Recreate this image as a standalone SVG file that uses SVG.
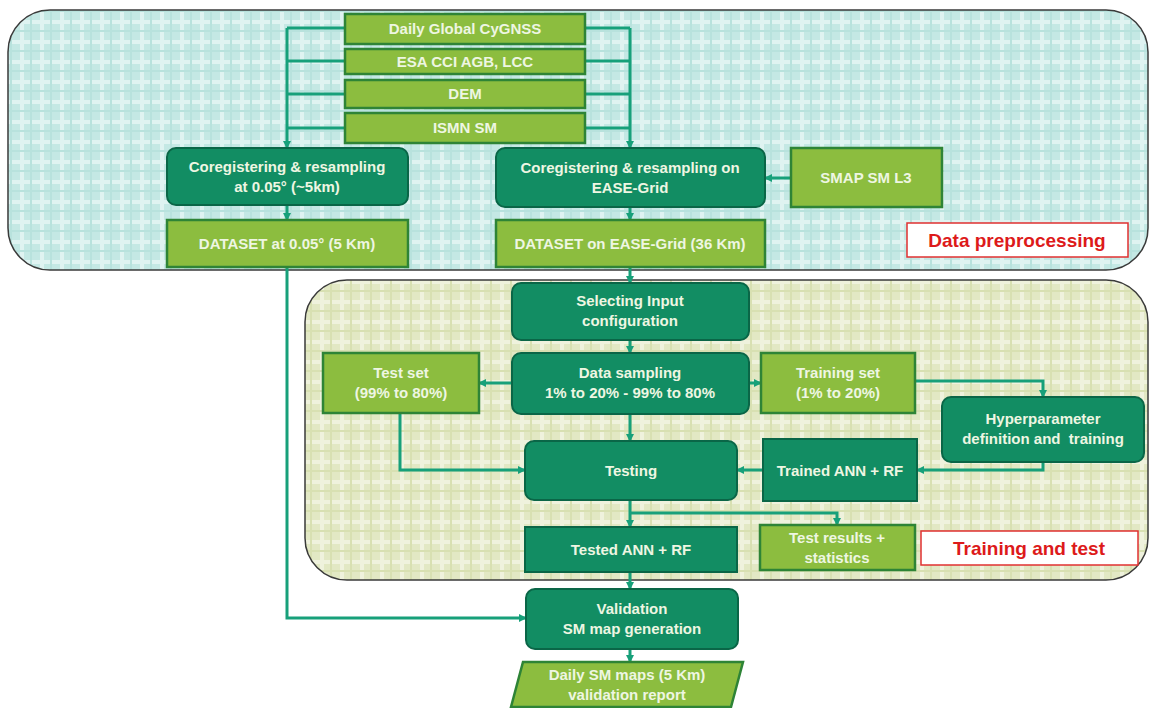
<svg xmlns="http://www.w3.org/2000/svg" width="1151" height="708" viewBox="0 0 1151 708">
<defs>
<pattern id="pA" width="20" height="20" patternUnits="userSpaceOnUse">
<rect width="20" height="20" fill="#c4e8e4"/>
<rect x="0" y="0" width="4" height="20" fill="#dff3f1"/>
<rect x="0" y="0" width="20" height="4" fill="#dff3f1"/>
<rect x="10" y="0" width="2" height="20" fill="#b8e2dd"/>
<rect x="0" y="10" width="20" height="2" fill="#b8e2dd"/>
</pattern>
<pattern id="pB" width="20" height="20" patternUnits="userSpaceOnUse">
<rect width="20" height="20" fill="#e2e8c4"/>
<rect x="0" y="0" width="4" height="20" fill="#eff2dd"/>
<rect x="0" y="0" width="20" height="4" fill="#eff2dd"/>
<rect x="10" y="0" width="2" height="20" fill="#d8e0b2"/>
<rect x="0" y="10" width="20" height="2" fill="#d8e0b2"/>
</pattern>
<marker id="ar" markerWidth="8" markerHeight="8" refX="7" refY="4" orient="auto" markerUnits="userSpaceOnUse">
<path d="M0,0 L8,4 L0,8 Z" fill="#17a07a"/>
</marker>
<style>
.dk{fill:#128d63;stroke:#0a6647;stroke-width:2}
.lt{fill:#8cbd3f;stroke:#2e8436;stroke-width:2.5}
.t{font-family:"Liberation Sans",Arial,sans-serif;font-weight:bold;font-size:15px;fill:#eef6e2;text-anchor:middle;white-space:pre}
.lbl{fill:#ffffff;stroke:#e03030;stroke-width:1.5}
.lt2{font-family:"Liberation Sans",Arial,sans-serif;font-weight:bold;font-size:19px;fill:#dd1a1a;text-anchor:middle}
.c{fill:none;stroke:#17a07a;stroke-width:3}
.ca{fill:none;stroke:#17a07a;stroke-width:3;marker-end:url(#ar)}
.pn{stroke:#3a3a3a;stroke-width:1.5}
</style>
</defs>

<g id="panel-preprocessing">
<rect class="pn" x="8" y="10" width="1140" height="260" rx="42" fill="url(#pA)"/>
</g>
<g id="panel-training">
<rect class="pn" x="305" y="280" width="843" height="300" rx="42" fill="url(#pB)"/>
</g>

<g id="connectors">
<path class="c" d="M345,28 H287 M345,61 H287 M345,94 H287 M345,128 H287"/>
<path class="ca" d="M287,28 V148"/>
<path class="c" d="M585,28 H630 M585,61 H630 M585,94 H630 M585,128 H630"/>
<path class="ca" d="M630,28 V148"/>
<path class="ca" d="M791,178 H765"/>
<path class="ca" d="M287,205 V220"/>
<path class="ca" d="M630,207 V220"/>
<path class="ca" d="M630,267 V283"/>
<path class="ca" d="M287,267 V618 H526"/>
<path class="ca" d="M630,340 V353"/>
<path class="ca" d="M512,383 H479"/>
<path class="ca" d="M749,383 H761"/>
<path class="ca" d="M915,381 H1043 V397"/>
<path class="ca" d="M1043,462 V470 H917"/>
<path class="ca" d="M763,470 H737"/>
<path class="ca" d="M400,413 V470 H525"/>
<path class="ca" d="M630,414 V441"/>
<path class="ca" d="M630,500 V527"/>
<path class="ca" d="M630,513 H837 V525"/>
<path class="ca" d="M630,572 V589"/>
<path class="ca" d="M630,649 V662"/>
</g>

<g id="n-cygnss"><rect class="lt" x="345" y="14" width="240" height="30"/><text class="t" x="465" y="34">Daily Global CyGNSS</text></g>
<g id="n-esa"><rect class="lt" x="345" y="49" width="240" height="25"/><text class="t" x="465" y="67">ESA CCI AGB, LCC</text></g>
<g id="n-dem"><rect class="lt" x="345" y="80" width="240" height="28"/><text class="t" x="465" y="99">DEM</text></g>
<g id="n-ismn"><rect class="lt" x="345" y="113" width="240" height="30"/><text class="t" x="465" y="133">ISMN SM</text></g>

<g id="n-coreg1"><rect class="dk" x="167" y="148" width="241" height="57" rx="9"/><text class="t" x="287" y="172">Coregistering &amp; resampling</text><text class="t" x="287" y="192">at 0.05° (~5km)</text></g>
<g id="n-coreg2"><rect class="dk" x="496" y="148" width="269" height="59" rx="9"/><text class="t" x="630" y="173">Coregistering &amp; resampling on</text><text class="t" x="630" y="193">EASE-Grid</text></g>
<g id="n-smap"><rect class="lt" x="791" y="148" width="151" height="59"/><text class="t" x="866" y="183">SMAP SM L3</text></g>
<g id="n-ds1"><rect class="lt" x="167" y="220" width="241" height="47"/><text class="t" x="287" y="249">DATASET at 0.05° (5 Km)</text></g>
<g id="n-ds2"><rect class="lt" x="496" y="220" width="269" height="47"/><text class="t" x="630" y="249">DATASET on EASE-Grid (36 Km)</text></g>
<g id="l-pre"><rect class="lbl" x="907" y="223" width="221" height="34"/><text class="lt2" x="1017" y="247">Data preprocessing</text></g>

<g id="n-select"><rect class="dk" x="512" y="283" width="237" height="57" rx="9"/><text class="t" x="630" y="306">Selecting Input</text><text class="t" x="630" y="326">configuration</text></g>
<g id="n-sampling"><rect class="dk" x="512" y="353" width="237" height="61" rx="9"/><text class="t" x="630" y="378">Data sampling</text><text class="t" x="630" y="398">1% to 20% - 99% to 80%</text></g>
<g id="n-testset"><rect class="lt" x="323" y="353" width="156" height="60"/><text class="t" x="401" y="378">Test set</text><text class="t" x="401" y="398">(99% to 80%)</text></g>
<g id="n-trainset"><rect class="lt" x="761" y="353" width="154" height="60"/><text class="t" x="838" y="378">Training set</text><text class="t" x="838" y="398">(1% to 20%)</text></g>
<g id="n-hyper"><rect class="dk" x="942" y="397" width="202" height="65" rx="9"/><text class="t" x="1043" y="424">Hyperparameter</text><text class="t" x="1043" y="444">definition and  training</text></g>
<g id="n-testing"><rect class="dk" x="525" y="441" width="212" height="59" rx="9"/><text class="t" x="631" y="476">Testing</text></g>
<g id="n-trained"><rect class="dk" x="763" y="439" width="154" height="62"/><text class="t" x="840" y="476">Trained ANN + RF</text></g>
<g id="n-tested"><rect class="dk" x="525" y="527" width="212" height="45"/><text class="t" x="631" y="555">Tested ANN + RF</text></g>
<g id="n-results"><rect class="lt" x="760" y="525" width="155" height="45"/><text class="t" x="837" y="543">Test results +</text><text class="t" x="837" y="563">statistics</text></g>
<g id="l-train"><rect class="lbl" x="921" y="531" width="217" height="34"/><text class="lt2" x="1029" y="555">Training and test</text></g>

<g id="n-valid"><rect class="dk" x="526" y="589" width="212" height="60" rx="9"/><text class="t" x="632" y="614">Validation</text><text class="t" x="632" y="634">SM map generation</text></g>
<g id="n-maps"><path class="lt" d="M523,662 H743 L731,707 H511 Z"/><text class="t" x="627" y="680">Daily SM maps (5 Km)</text><text class="t" x="627" y="700">validation report</text></g>
</svg>
